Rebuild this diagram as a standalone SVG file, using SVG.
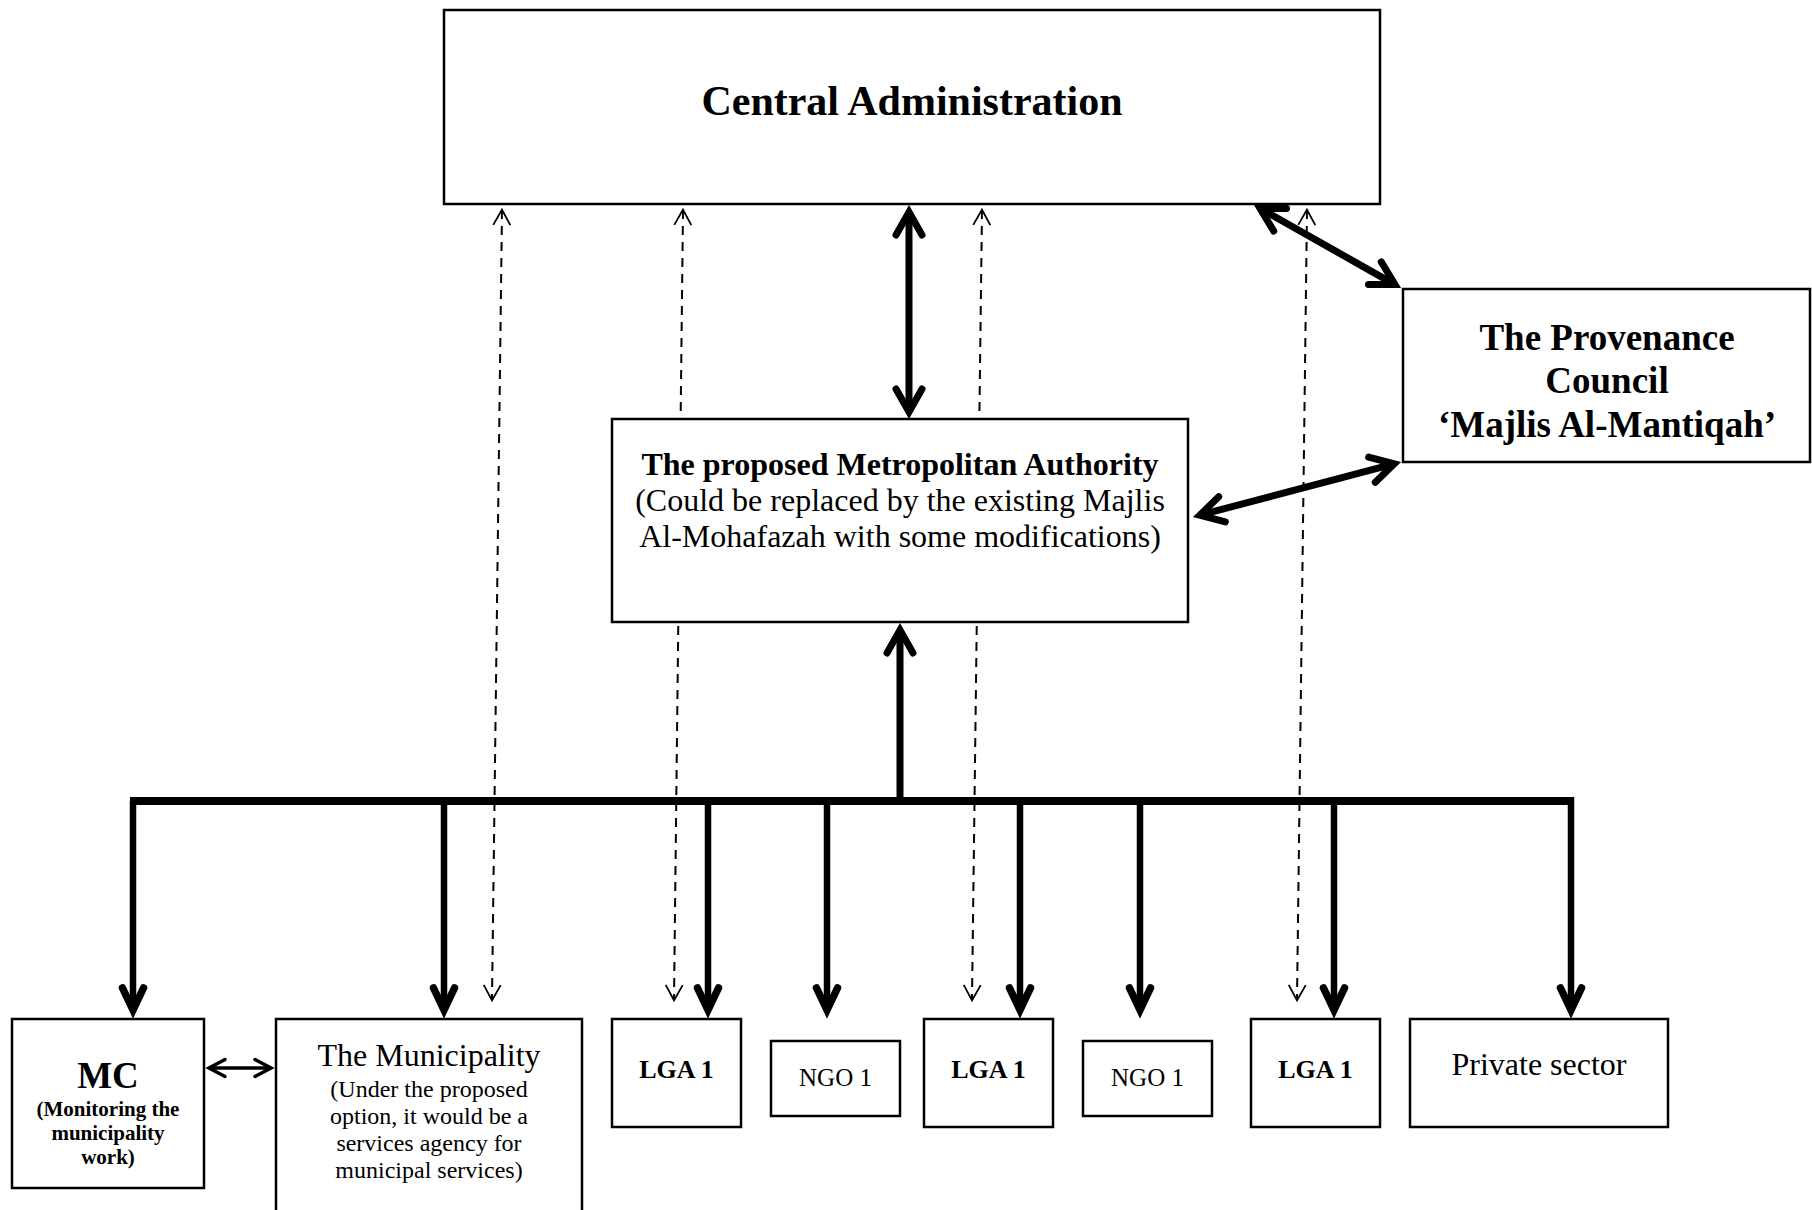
<svg xmlns="http://www.w3.org/2000/svg" xmlns:xlink="http://www.w3.org/1999/xlink" width="1812" height="1210" viewBox="0 0 1812 1210">
<style>
.box{fill:#fff;stroke:#000;stroke-width:2.5}
.t{font-family:"Liberation Serif","Times New Roman",serif;fill:#000;text-anchor:middle}
.b{font-weight:bold}
.thk{fill:none;stroke:#000;stroke-width:7}
.hd{fill:none;stroke:#000;stroke-width:7;stroke-linejoin:miter;stroke-linecap:round}
.drop{fill:none;stroke:#000;stroke-width:6.5}
.hdd{fill:none;stroke:#000;stroke-width:7.5;stroke-linejoin:miter;stroke-linecap:round}
.dash{fill:none;stroke:#000;stroke-width:2;stroke-dasharray:9 7}
.ho{fill:none;stroke:#000;stroke-width:1.8;stroke-linejoin:miter}
.sm{fill:none;stroke:#000;stroke-width:3.5}
.hs{fill:none;stroke:#000;stroke-width:3.5;stroke-linejoin:miter;stroke-linecap:round}
</style>
<defs>
<path id="hT" d="M-30,-13 L-7,0 L-30,13"/>
<path id="hD" d="M-31,-10.5 L-9,0 L-31,10.5"/>
<path id="hO" d="M-17,-8.5 L-1.5,0 L-17,8.5"/>
<path id="hS" d="M-20,-8.5 L-4,0 L-20,8.5"/>
</defs>
<rect width="1812" height="1210" fill="#fff"/>
<g id="connectors">
  <line class="dash" x1="502" y1="210" x2="492" y2="1000"/>
  <use href="#hO" class="ho" transform="translate(502,208) rotate(-89.28)"/>
  <use href="#hO" class="ho" transform="translate(492,1002) rotate(90.72)"/>
  <line class="dash" x1="683" y1="210" x2="674" y2="1000"/>
  <use href="#hO" class="ho" transform="translate(683,208) rotate(-89.35)"/>
  <use href="#hO" class="ho" transform="translate(674,1002) rotate(90.65)"/>
  <line class="dash" x1="982" y1="210" x2="972" y2="1000"/>
  <use href="#hO" class="ho" transform="translate(982,208) rotate(-89.28)"/>
  <use href="#hO" class="ho" transform="translate(972,1002) rotate(90.72)"/>
  <line class="dash" x1="1307" y1="210" x2="1297" y2="1000"/>
  <use href="#hO" class="ho" transform="translate(1307,208) rotate(-89.28)"/>
  <use href="#hO" class="ho" transform="translate(1297,1002) rotate(90.72)"/>
  <line class="thk" x1="909" y1="214" x2="909" y2="410"/>
  <use href="#hT" class="hd" transform="translate(909,205) rotate(-90)"/>
  <use href="#hT" class="hd" transform="translate(909,419) rotate(90)"/>
  <line class="thk" x1="1262.7" y1="209.9" x2="1392.3" y2="283.1"/>
  <use href="#hT" class="hd" transform="translate(1254,205) rotate(209.45)"/>
  <use href="#hT" class="hd" transform="translate(1401,288) rotate(29.45)"/>
  <line class="thk" x1="1202.7" y1="514.4" x2="1391.3" y2="464.6"/>
  <use href="#hT" class="hd" transform="translate(1193,517) rotate(165.2)"/>
  <use href="#hT" class="hd" transform="translate(1401,462) rotate(-14.8)"/>
  <line class="thk" x1="900" y1="632" x2="900" y2="805"/>
  <use href="#hT" class="hd" transform="translate(900,623) rotate(-90)"/>
  <line x1="130" y1="801" x2="1574" y2="801" stroke="#000" stroke-width="8"/>
  <line class="drop" x1="133" y1="801" x2="133" y2="1008"/>
  <use href="#hD" class="hdd" transform="translate(133,1019) rotate(90)"/>
  <line class="drop" x1="444" y1="801" x2="444" y2="1008"/>
  <use href="#hD" class="hdd" transform="translate(444,1019) rotate(90)"/>
  <line class="drop" x1="708" y1="801" x2="708" y2="1008"/>
  <use href="#hD" class="hdd" transform="translate(708,1019) rotate(90)"/>
  <line class="drop" x1="827" y1="801" x2="827" y2="1008"/>
  <use href="#hD" class="hdd" transform="translate(827,1019) rotate(90)"/>
  <line class="drop" x1="1020" y1="801" x2="1020" y2="1008"/>
  <use href="#hD" class="hdd" transform="translate(1020,1019) rotate(90)"/>
  <line class="drop" x1="1140" y1="801" x2="1140" y2="1008"/>
  <use href="#hD" class="hdd" transform="translate(1140,1019) rotate(90)"/>
  <line class="drop" x1="1334" y1="801" x2="1334" y2="1008"/>
  <use href="#hD" class="hdd" transform="translate(1334,1019) rotate(90)"/>
  <line class="drop" x1="1571" y1="797" x2="1571" y2="1008"/>
  <use href="#hD" class="hdd" transform="translate(1571,1019) rotate(90)"/>
  <line class="sm" x1="209" y1="1068" x2="271" y2="1068"/>
  <use href="#hS" class="hs" transform="translate(205,1068) rotate(180)"/>
  <use href="#hS" class="hs" transform="translate(275,1068)"/>
</g>
<g id="central">
  <rect class="box" x="444" y="10" width="936" height="194"/>
  <text class="t b" x="912" y="115" font-size="42">Central Administration</text>
</g>
<g id="provenance">
  <rect class="box" x="1403" y="289" width="407" height="173"/>
  <text class="t b" font-size="37"><tspan x="1607" y="350">The Provenance</tspan><tspan x="1607" y="393">Council</tspan><tspan x="1607" y="437">‘Majlis Al-Mantiqah’</tspan></text>
</g>
<g id="metropolitan">
  <rect class="box" x="612" y="419" width="576" height="203"/>
  <text class="t" font-size="32"><tspan class="b" x="900" y="475">The proposed Metropolitan Authority</tspan><tspan x="900" y="511">(Could be replaced by the existing Majlis</tspan><tspan x="900" y="547">Al-Mohafazah with some modifications)</tspan></text>
</g>
<g id="mc">
  <rect class="box" x="12" y="1019" width="192" height="169"/>
  <text class="t b" x="108" y="1088" font-size="37">MC</text>
  <text class="t b" font-size="21"><tspan x="108" y="1116">(Monitoring the</tspan><tspan x="108" y="1140">municipality</tspan><tspan x="108" y="1164">work)</tspan></text>
</g>
<g id="municipality">
  <rect class="box" x="276" y="1019" width="306" height="200"/>
  <text class="t" x="429" y="1066" font-size="32">The Municipality</text>
  <text class="t" font-size="24"><tspan x="429" y="1097">(Under the proposed</tspan><tspan x="429" y="1124">option, it would be a</tspan><tspan x="429" y="1151">services agency for</tspan><tspan x="429" y="1178">municipal services)</tspan></text>
</g>
<g id="lga1a">
  <rect class="box" x="612" y="1019" width="129" height="108"/>
  <text class="t b" x="676.5" y="1078" font-size="26">LGA 1</text>
</g>
<g id="ngo1a">
  <rect class="box" x="771" y="1041" width="129" height="75"/>
  <text class="t" x="835.5" y="1086" font-size="25">NGO 1</text>
</g>
<g id="lga1b">
  <rect class="box" x="924" y="1019" width="129" height="108"/>
  <text class="t b" x="988.5" y="1078" font-size="26">LGA 1</text>
</g>
<g id="ngo1b">
  <rect class="box" x="1083" y="1041" width="129" height="75"/>
  <text class="t" x="1147.5" y="1086" font-size="25">NGO 1</text>
</g>
<g id="lga1c">
  <rect class="box" x="1251" y="1019" width="129" height="108"/>
  <text class="t b" x="1315.5" y="1078" font-size="26">LGA 1</text>
</g>
<g id="private">
  <rect class="box" x="1410" y="1019" width="258" height="108"/>
  <text class="t" x="1539" y="1075" font-size="32">Private sector</text>
</g>
</svg>
